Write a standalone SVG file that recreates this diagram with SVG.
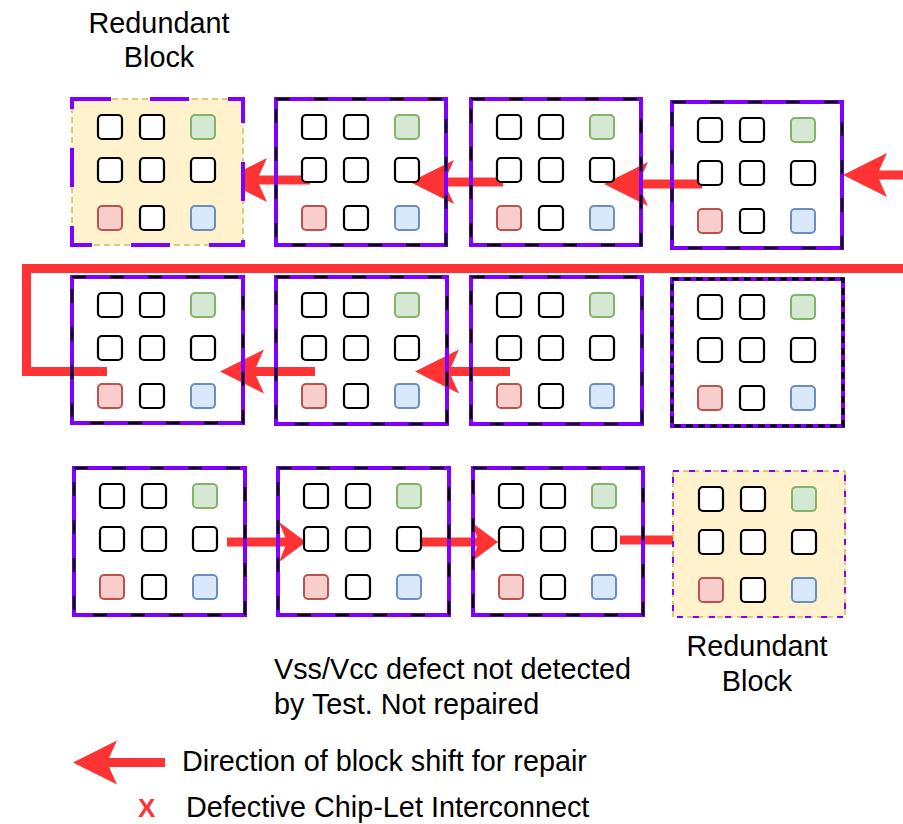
<svg xmlns="http://www.w3.org/2000/svg" width="903" height="824" viewBox="0 0 903 824">
  <style>
    .lbl { font-family: "Liberation Sans", Arial, sans-serif; font-size: 28.8px; fill: #000; }
    .sq { fill: #fff; stroke: #000; stroke-width: 2.2; }
    .gn { fill: #d5e8d4; stroke: #82b366; stroke-width: 2; }
    .rd { fill: #f8cecc; stroke: #b85450; stroke-width: 2; }
    .bl { fill: #dae8fc; stroke: #6c8ebf; stroke-width: 2; }
    .frame { fill: none; stroke: #7f00ff; stroke-width: 4; }
    .dash { fill: none; stroke: #000; stroke-width: 2.5; stroke-dasharray: 14 24; }
    .dashfine { fill: none; stroke: #000; stroke-width: 3; stroke-dasharray: 7 5; }
    .spare { fill: #fff2cc; stroke: #d6b656; stroke-width: 1.5; stroke-dasharray: 6 4; }
    .spare-edge { fill: none; stroke: #7f00ff; stroke-width: 4; stroke-dasharray: 39 39; }
    .spare-edge-thin { fill: none; stroke: #7f00ff; stroke-width: 2; stroke-dasharray: 6 10; }
    .link { fill: none; stroke: #ff3333; stroke-width: 9; }
  </style>
  <defs>
    <!-- 3x3 pad grid of one chiplet block -->
    <g id="pads">
      <rect class="sq" x="26" y="16" width="24" height="24" rx="4"/>
      <rect class="sq" x="68" y="16" width="24" height="24" rx="4"/>
      <rect class="gn" x="119" y="16" width="24" height="24" rx="4"/>
      <rect class="sq" x="26" y="59" width="24" height="24" rx="4"/>
      <rect class="sq" x="68" y="59" width="24" height="24" rx="4"/>
      <rect class="sq" x="119" y="59" width="24" height="24" rx="4"/>
      <rect class="rd" x="26" y="107" width="24" height="24" rx="4"/>
      <rect class="sq" x="68" y="107" width="24" height="24" rx="4"/>
      <rect class="bl" x="119" y="107" width="24" height="24" rx="4"/>
    </g>
    <!-- notched arrowheads; the shaft ends in the notch -->
    <marker id="head" markerUnits="userSpaceOnUse" viewBox="0 -22 44 44" markerWidth="44" markerHeight="44" refX="10" refY="0" orient="auto" overflow="visible">
      <path d="M0,-22 L44,0 L0,22 L10,0 Z" fill="#ff3333"/>
    </marker>
    <marker id="headShort" markerUnits="userSpaceOnUse" viewBox="0 -20 27 40" markerWidth="27" markerHeight="40" refX="8" refY="0" orient="auto" overflow="visible">
      <path d="M0,-20 L27,0 L0,20 L8,0 Z" fill="#ff3333"/>
    </marker>
  </defs>

  <!-- connectors: block shift paths -->
  <g id="connectors">
    <!-- row 1, shifting left -->
    <line class="link" x1="910" y1="175" x2="877" y2="175" marker-end="url(#head)"/>
    <line class="link" x1="702" y1="184" x2="638" y2="184" marker-end="url(#head)"/>
    <line class="link" x1="503" y1="182" x2="444" y2="182" marker-end="url(#head)"/>
    <line class="link" x1="310" y1="180" x2="257" y2="180" marker-end="url(#head)"/>
    <!-- wrap from row 1 into row 2 -->
    <path class="link" d="M910,268.5 H26.5 V371.5 H107"/>
    <!-- row 2, shifting left -->
    <line class="link" x1="510" y1="371.5" x2="449" y2="371.5" marker-end="url(#head)"/>
    <line class="link" x1="315" y1="371.5" x2="254" y2="371.5" marker-end="url(#head)"/>
    <!-- row 3, shifting right -->
    <line class="link" x1="227" y1="542" x2="287" y2="542" marker-end="url(#headShort)"/>
    <line class="link" x1="422" y1="542" x2="479" y2="542" marker-end="url(#headShort)"/>
    <line class="link" x1="620" y1="540" x2="681" y2="540" marker-end="url(#headShort)"/>
  </g>

  <!-- row 1 -->
  <g id="block-r1c1">
    <rect class="spare" x="72" y="99" width="171" height="146"/>
    <rect class="spare-edge" x="72" y="99" width="171" height="146"/>
    <use href="#pads" transform="translate(72,99)"/>
  </g>
  <g id="block-r1c2" transform="translate(276,99)">
    <rect class="frame" width="170" height="146"/>
    <rect class="dash" width="170" height="146"/>
    <use href="#pads"/>
  </g>
  <g id="block-r1c3" transform="translate(471,99)">
    <rect class="frame" width="170" height="146"/>
    <rect class="dash" width="170" height="146"/>
    <use href="#pads"/>
  </g>
  <g id="block-r1c4" transform="translate(672,102)">
    <rect class="frame" width="170" height="146"/>
    <rect class="dash" width="170" height="146"/>
    <use href="#pads"/>
  </g>

  <!-- row 2 -->
  <g id="block-r2c1" transform="translate(72,277)">
    <rect class="frame" width="171" height="146"/>
    <rect class="dash" width="171" height="146"/>
    <use href="#pads"/>
  </g>
  <g id="block-r2c2" transform="translate(276,277)">
    <rect class="frame" width="171" height="147"/>
    <rect class="dash" width="171" height="147"/>
    <use href="#pads"/>
  </g>
  <g id="block-r2c3" transform="translate(471,277)">
    <rect class="frame" width="171" height="147"/>
    <rect class="dash" width="171" height="147"/>
    <use href="#pads"/>
  </g>
  <g id="block-r2c4" transform="translate(672,279)">
    <rect class="frame" width="171" height="147"/>
    <rect class="dashfine" width="171" height="147"/>
    <use href="#pads"/>
  </g>

  <!-- row 3 -->
  <g id="block-r3c1" transform="translate(74,468)">
    <rect class="frame" width="171" height="147"/>
    <rect class="dash" width="171" height="147"/>
    <use href="#pads"/>
  </g>
  <g id="block-r3c2" transform="translate(278,468)">
    <rect class="frame" width="171" height="147"/>
    <rect class="dash" width="171" height="147"/>
    <use href="#pads"/>
  </g>
  <g id="block-r3c3" transform="translate(473,468)">
    <rect class="frame" width="170" height="147"/>
    <rect class="dash" width="170" height="147"/>
    <use href="#pads"/>
  </g>
  <g id="block-r3c4">
    <rect class="spare" x="673" y="471" width="172" height="146"/>
    <rect class="spare-edge-thin" x="673" y="471" width="172" height="146"/>
    <use href="#pads" transform="translate(673,471)"/>
  </g>

  <!-- labels -->
  <g id="label-spare-top">
    <text class="lbl" x="159" y="33" text-anchor="middle">Redundant</text>
    <text class="lbl" x="159" y="67" text-anchor="middle">Block</text>
  </g>
  <g id="label-spare-bottom">
    <text class="lbl" x="757" y="656" text-anchor="middle">Redundant</text>
    <text class="lbl" x="757" y="691" text-anchor="middle">Block</text>
  </g>
  <g id="note">
    <text class="lbl" x="274" y="679">Vss/Vcc defect not detected</text>
    <text class="lbl" x="274" y="714">by Test. Not repaired</text>
  </g>

  <!-- legend -->
  <g id="legend">
    <line class="link" x1="165" y1="762.5" x2="107" y2="762.5" marker-end="url(#head)"/>
    <text class="lbl" x="182" y="771">Direction of block shift for repair</text>
    <text x="138" y="817" style="font-family:'Liberation Sans',Arial,sans-serif;font-size:26px;font-weight:bold;fill:#ff3333">X</text>
    <text class="lbl" x="186" y="817">Defective Chip-Let Interconnect</text>
  </g>
</svg>
